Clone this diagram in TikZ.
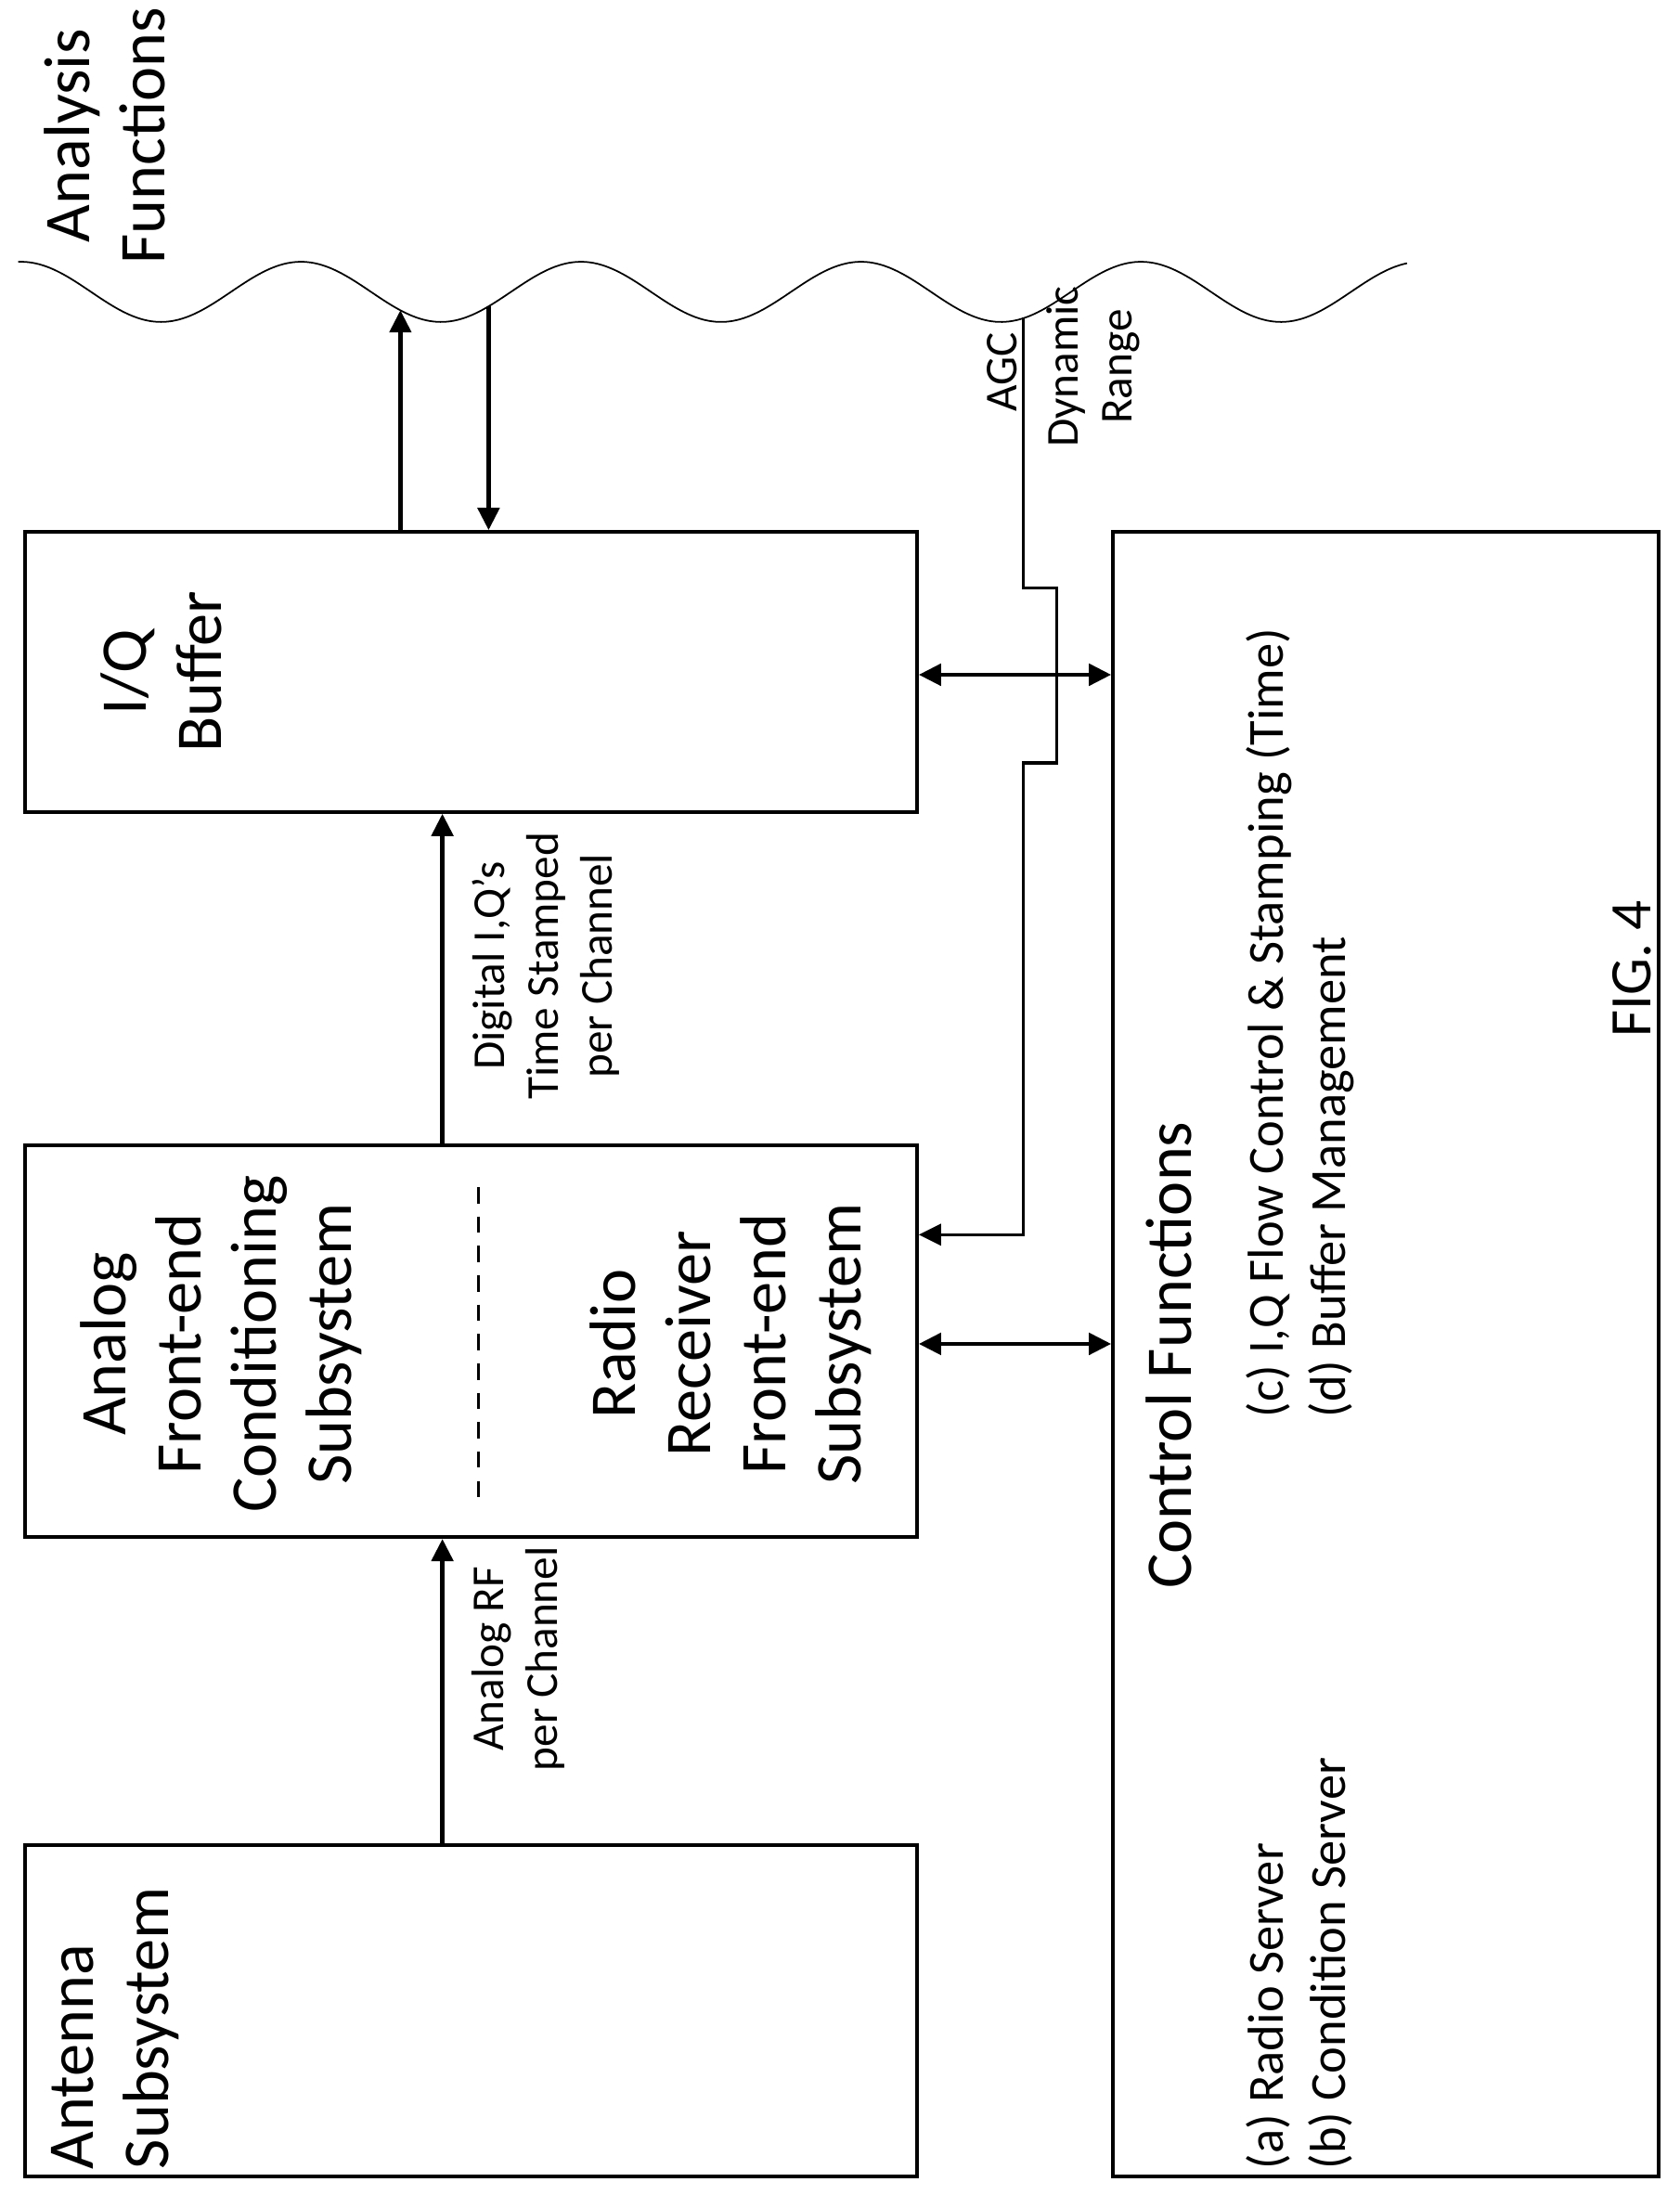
\documentclass[tikz,border=0pt]{standalone}
\usepackage{fontspec}
\setmainfont{Carlito}
\usetikzlibrary{arrows.meta}
\newcommand{\px}{0.015083cm}

\tikzset{
  block/.style={rectangle, draw, line width=1.1pt, inner sep=0pt},
  big/.style={font=\fontsize{20}{23}\selectfont, rotate=90, inner sep=0pt},
  item/.style={font=\fontsize{15.5}{19}\selectfont, rotate=90, inner sep=0pt},
  small/.style={font=\fontsize{14}{16.5}\selectfont, rotate=90, inner sep=0pt},
  flow/.style={line width=1.4pt, -{Triangle[length=2.4mm, width=2.3mm]}},
  both/.style={line width=1.4pt, {Triangle[length=2.4mm, width=2.3mm]}-{Triangle[length=2.4mm, width=2.3mm]}},
}

\begin{document}
\begin{tikzpicture}[x=\px, y=-\px]
    \useasboundingbox (0,0) rectangle (1200,1568);

    % blocks
    \node[block, minimum width={637*\px}, minimum height={237*\px}] (antenna) at (336.5,1436.5) {};
    \node[block, minimum width={637*\px}, minimum height={280*\px}] (frontend) at (336.5,958) {};
    \node[block, minimum width={637*\px}, minimum height={200*\px}] (buffer) at (336.5,480) {};
    \node[block, minimum width={390*\px}, minimum height={1175*\px}] (control) at (990,967.5) {};

    % block texts
    \node[big, anchor=north west, align=left] (antenna_txt) at (36,1550) {Antenna\\Subsystem};
    \node[big, align=center] (cond_txt) at (158,960) {Analog\\Front-end\\Conditioning\\Subsystem};
    \node[big, align=center] (radio_txt) at (522,960) {Radio\\Receiver\\Front-end\\Subsystem};
    \node[big, align=center] (buffer_txt) at (115,480) {I/Q\\Buffer};
    \node[big] (control_txt) at (835,968) {Control Functions};
    \node[item, anchor=north west, align=left] (items_ab) at (890,1550) {(a) Radio Server\\(b) Condition Server};
    \node[item, anchor=north west, align=left] (items_cd) at (890,1013) {(c) I,Q Flow Control \& Stamping (Time)\\(d) Buffer Management};
    \node[big, align=center] (analysis) at (75,97) {Analysis\\Functions};
    \node[font=\fontsize{18}{22}\selectfont, rotate=90, inner sep=0pt] (fig) at (1166,692) {FIG. 4};

    \draw[line width=0.8pt, dash pattern=on 5pt off 4pt] (342,848) -- (342,1070);

    % analysis boundary
    \draw[line width=0.5pt] plot[domain=13:1005, samples=200, smooth] (\x, {208.5-21.5*cos(deg(2*pi*(\x-215)/200))});
    \coordinate (up_end) at (286,221.6);
    \coordinate (down_start) at (349,219);
    \coordinate (agc_start) at (731,227);

    % data paths
    \coordinate (rf) at (316,0);
    \draw[flow] (antenna.north -| rf) -- (frontend.south -| rf);
    \draw[flow] (frontend.north -| rf) -- (buffer.south -| rf);
    \node[small, align=center] (rf_lbl) at (370,1185) {Analog RF\\per Channel};
    \node[small, align=center] (iq_lbl) at (390,690) {Digital I,Q's\\Time Stamped\\per Channel};
    \draw[flow] (buffer.north -| up_end) -- (up_end);
    \draw[flow] (down_start) -- (buffer.north -| down_start);
    \draw[both] (buffer.east |- 0,482) -- (control.west |- 0,482);
    \draw[both] (frontend.east |- 0,960) -- (control.west |- 0,960);
    \draw[line width=0.9pt, -{Triangle[length=2.4mm, width=2.3mm]}] (agc_start) -- (731,420) -- (755,420) -- (755,545) -- (731,545) -- (731,882) -- (frontend.east |- 0,882);

    \node[small] (agc) at (716,266) {AGC};
    \node[small, align=center] (dyn) at (781,262) {Dynamic\\Range};
\end{tikzpicture}
\end{document}
